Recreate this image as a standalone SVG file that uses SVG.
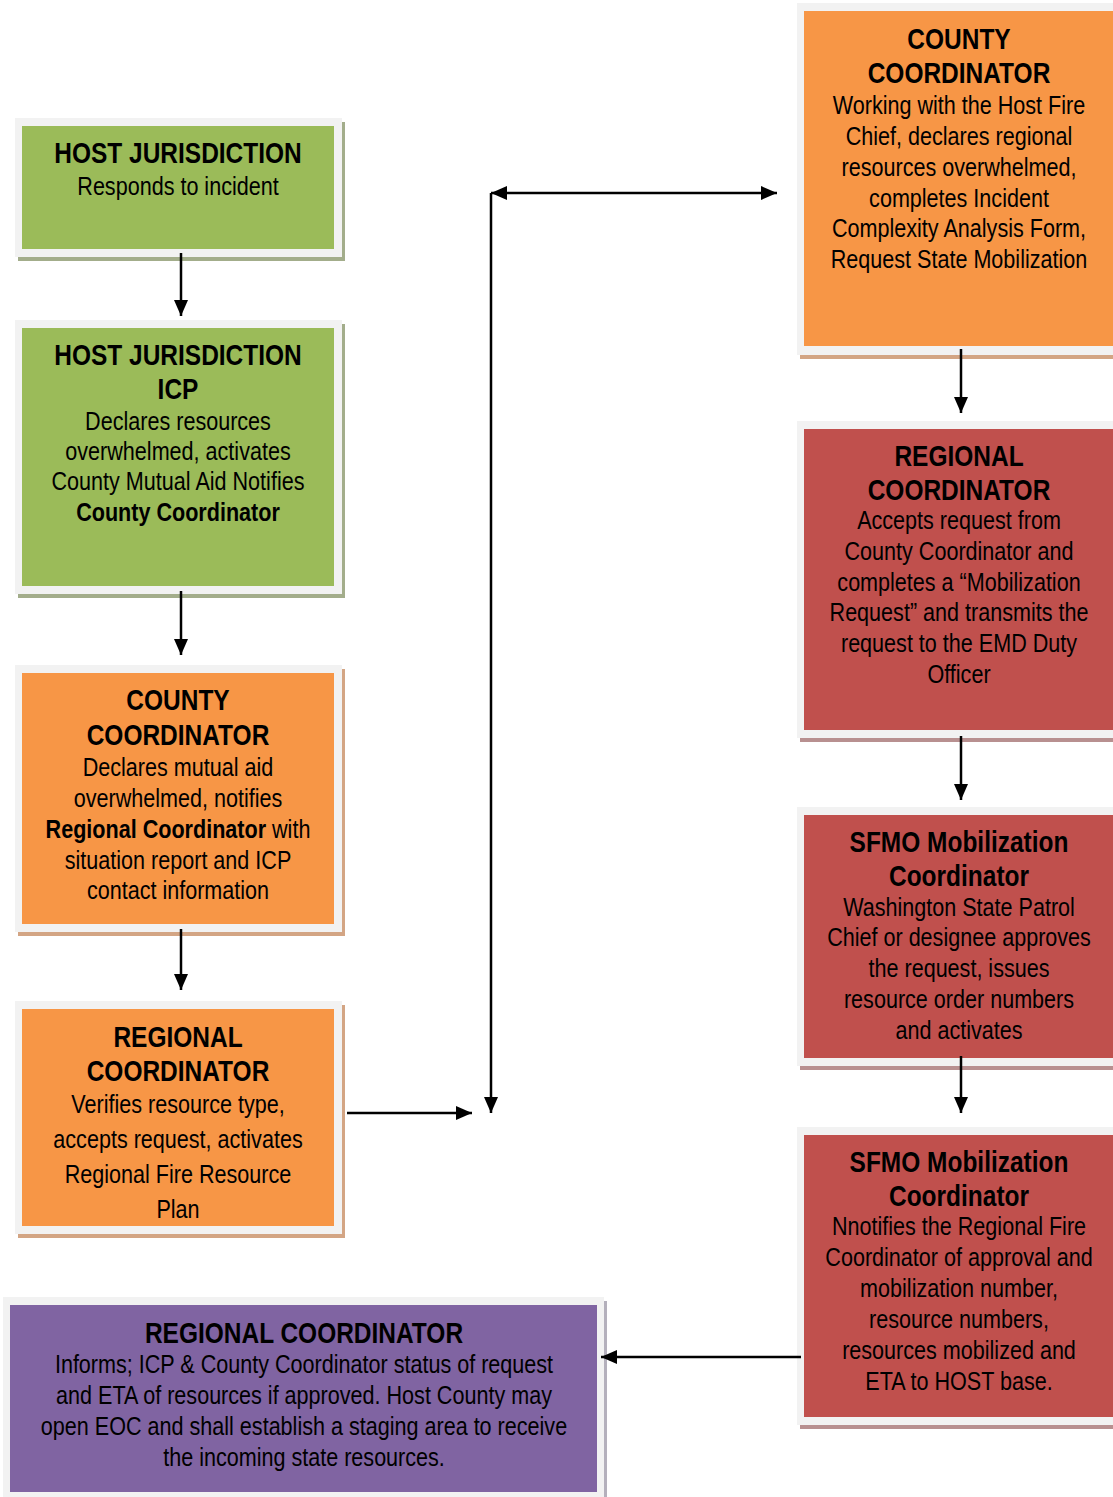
<svg xmlns="http://www.w3.org/2000/svg" width="1113" height="1497" viewBox="0 0 1113 1497">
<style>
text{font-family:"Liberation Sans Narrow","Liberation Sans",Arial,sans-serif;fill:#000;text-anchor:middle}
.t{font-size:29.5px;font-weight:bold}
.b{font-size:26px}
.bb{font-weight:bold}
.frame{fill:#f2f2f2}
.g{fill:#9bbb59}.gs{fill:#a3ad8b}
.o{fill:#f79646}.os{fill:#d3a584}
.r{fill:#c0504d}.rs{fill:#b89090}
.p{fill:#8064a2}.ps{fill:#b4b0bc}
.c{stroke:#000;stroke-width:2.5;fill:none}
</style>
<defs>
<marker id="ah" markerWidth="16" markerHeight="14" refX="16" refY="7" orient="auto-start-reverse" markerUnits="userSpaceOnUse"><path d="M0,0 L16,7 L0,14 Z" fill="#000"/></marker>
</defs>

<g id="host-jurisdiction">
<rect class="gs" x="18" y="122" width="327" height="139"/>
<rect class="frame" x="15" y="118" width="327" height="139"/>
<rect class="g" x="22" y="126" width="312" height="123"/>
<g transform="translate(178 0) scale(0.83 1)">
<text class="t" x="0" y="163">HOST JURISDICTION</text>
<text class="b" x="0" y="195">Responds to incident</text>
</g>
</g>

<g id="host-jurisdiction-icp">
<rect class="gs" x="18" y="324" width="327" height="274"/>
<rect class="frame" x="15" y="320" width="327" height="274"/>
<rect class="g" x="22" y="328" width="312" height="258"/>
<g transform="translate(178 0) scale(0.83 1)">
<text class="t" x="0" y="365">HOST JURISDICTION</text>
<text class="t" x="0" y="399">ICP</text>
<text class="b" x="0" y="430">Declares resources</text>
<text class="b" x="0" y="460">overwhelmed, activates</text>
<text class="b" x="0" y="490">County Mutual Aid Notifies</text>
<text class="b bb" x="0" y="521">County Coordinator</text>
</g>
</g>

<g id="county-coordinator-1">
<rect class="os" x="18" y="669" width="327" height="267"/>
<rect class="frame" x="15" y="665" width="327" height="267"/>
<rect class="o" x="22" y="673" width="312" height="251"/>
<g transform="translate(178 0) scale(0.83 1)">
<text class="t" x="0" y="710">COUNTY</text>
<text class="t" x="0" y="745">COORDINATOR</text>
<text class="b" x="0" y="776">Declares mutual aid</text>
<text class="b" x="0" y="807">overwhelmed, notifies</text>
<text class="b" x="0" y="838"><tspan class="bb">Regional Coordinator</tspan> with</text>
<text class="b" x="0" y="869">situation report and ICP</text>
<text class="b" x="0" y="899">contact information</text>
</g>
</g>

<g id="regional-coordinator-1">
<rect class="os" x="18" y="1005" width="327" height="233"/>
<rect class="frame" x="15" y="1001" width="327" height="233"/>
<rect class="o" x="22" y="1009" width="312" height="217"/>
<g transform="translate(178 0) scale(0.83 1)">
<text class="t" x="0" y="1047">REGIONAL</text>
<text class="t" x="0" y="1081">COORDINATOR</text>
<text class="b" x="0" y="1113">Verifies resource type,</text>
<text class="b" x="0" y="1148">accepts request, activates</text>
<text class="b" x="0" y="1183">Regional Fire Resource</text>
<text class="b" x="0" y="1218">Plan</text>
</g>
</g>

<g id="regional-coordinator-final">
<rect class="ps" x="6" y="1301" width="601" height="200"/>
<rect class="frame" x="3" y="1297" width="601" height="200"/>
<rect class="p" x="10" y="1305" width="587" height="187"/>
<g transform="translate(304 0) scale(0.83 1)">
<text class="t" x="0" y="1343">REGIONAL COORDINATOR</text>
<text class="b" x="0" y="1373">Informs; ICP &amp; County Coordinator status of request</text>
<text class="b" x="0" y="1404">and ETA of resources if approved. Host County may</text>
<text class="b" x="0" y="1435">open EOC and shall establish a staging area to receive</text>
<text class="b" x="0" y="1466">the incoming state resources.</text>
</g>
</g>

<g id="county-coordinator-2">
<rect class="os" x="800" y="7" width="330" height="352"/>
<rect class="frame" x="797" y="3" width="330" height="352"/>
<rect class="o" x="804" y="11" width="320" height="335"/>
<g transform="translate(959 0) scale(0.83 1)">
<text class="t" x="0" y="49">COUNTY</text>
<text class="t" x="0" y="83">COORDINATOR</text>
<text class="b" x="0" y="114">Working with the Host Fire</text>
<text class="b" x="0" y="145">Chief, declares regional</text>
<text class="b" x="0" y="176">resources overwhelmed,</text>
<text class="b" x="0" y="207">completes Incident</text>
<text class="b" x="0" y="237">Complexity Analysis Form,</text>
<text class="b" x="0" y="268">Request State Mobilization</text>
</g>
</g>

<g id="regional-coordinator-2">
<rect class="rs" x="800" y="425" width="330" height="317"/>
<rect class="frame" x="797" y="421" width="330" height="317"/>
<rect class="r" x="804" y="429" width="320" height="301"/>
<g transform="translate(959 0) scale(0.83 1)">
<text class="t" x="0" y="466">REGIONAL</text>
<text class="t" x="0" y="500">COORDINATOR</text>
<text class="b" x="0" y="529">Accepts request from</text>
<text class="b" x="0" y="560">County Coordinator and</text>
<text class="b" x="0" y="591">completes a “Mobilization</text>
<text class="b" x="0" y="621">Request” and transmits the</text>
<text class="b" x="0" y="652">request to the EMD Duty</text>
<text class="b" x="0" y="683">Officer</text>
</g>
</g>

<g id="sfmo-coordinator-1">
<rect class="rs" x="800" y="811" width="330" height="259"/>
<rect class="frame" x="797" y="807" width="330" height="259"/>
<rect class="r" x="804" y="815" width="320" height="243"/>
<g transform="translate(959 0) scale(0.83 1)">
<text class="t" x="0" y="852">SFMO Mobilization</text>
<text class="t" x="0" y="886">Coordinator</text>
<text class="b" x="0" y="916">Washington State Patrol</text>
<text class="b" x="0" y="946">Chief or designee approves</text>
<text class="b" x="0" y="977">the request, issues</text>
<text class="b" x="0" y="1008">resource order numbers</text>
<text class="b" x="0" y="1039">and activates</text>
</g>
</g>

<g id="sfmo-coordinator-2">
<rect class="rs" x="800" y="1131" width="330" height="298"/>
<rect class="frame" x="797" y="1127" width="330" height="298"/>
<rect class="r" x="804" y="1135" width="320" height="282"/>
<g transform="translate(959 0) scale(0.83 1)">
<text class="t" x="0" y="1172">SFMO Mobilization</text>
<text class="t" x="0" y="1206">Coordinator</text>
<text class="b" x="0" y="1235">Nnotifies the Regional Fire</text>
<text class="b" x="0" y="1266">Coordinator of approval and</text>
<text class="b" x="0" y="1297">mobilization number,</text>
<text class="b" x="0" y="1328">resource numbers,</text>
<text class="b" x="0" y="1359">resources mobilized and</text>
<text class="b" x="0" y="1390">ETA to HOST base.</text>
</g>
</g>

<g id="connectors">
<line class="c" x1="181" y1="253" x2="181" y2="316" marker-end="url(#ah)"/>
<line class="c" x1="181" y1="591" x2="181" y2="655" marker-end="url(#ah)"/>
<line class="c" x1="181" y1="929" x2="181" y2="990" marker-end="url(#ah)"/>
<line class="c" x1="347" y1="1113" x2="472" y2="1113" marker-end="url(#ah)"/>
<line class="c" x1="491" y1="193" x2="491" y2="1113" marker-end="url(#ah)"/>
<line class="c" x1="491" y1="193" x2="777" y2="193" marker-start="url(#ah)" marker-end="url(#ah)"/>
<line class="c" x1="961" y1="349" x2="961" y2="413" marker-end="url(#ah)"/>
<line class="c" x1="961" y1="736" x2="961" y2="800" marker-end="url(#ah)"/>
<line class="c" x1="961" y1="1056" x2="961" y2="1113" marker-end="url(#ah)"/>
<line class="c" x1="801" y1="1357" x2="601" y2="1357" marker-end="url(#ah)"/>
</g>
</svg>
